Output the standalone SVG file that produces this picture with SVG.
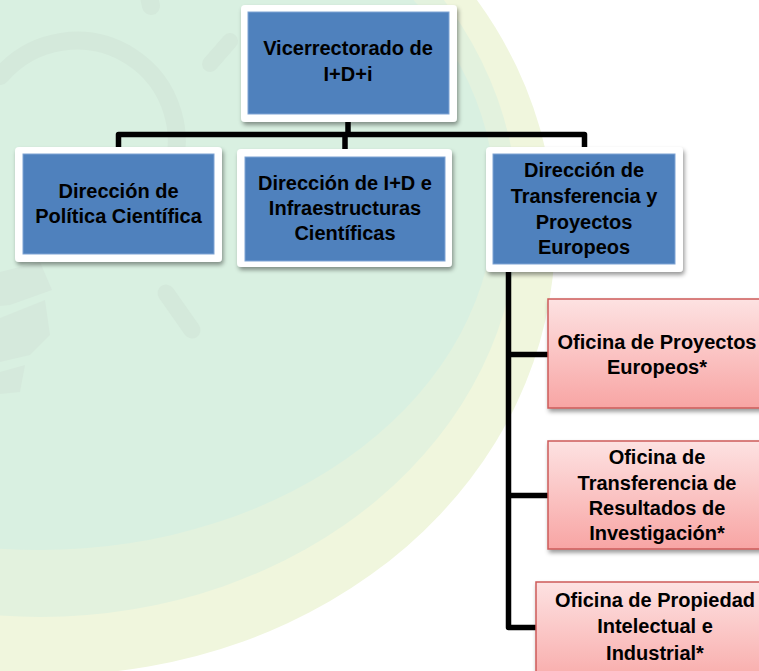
<svg xmlns="http://www.w3.org/2000/svg" width="759" height="671" viewBox="0 0 759 671">
<defs>
<filter id="sh" x="-10%" y="-10%" width="125%" height="130%">
<feDropShadow dx="1.5" dy="3" stdDeviation="2" flood-color="#000" flood-opacity="0.4"/>
</filter>
<linearGradient id="pink" x1="0" y1="0" x2="0" y2="1">
<stop offset="0" stop-color="#fde2e2"/>
<stop offset="1" stop-color="#f8a5a4"/>
</linearGradient>
<style>
.frame{fill:#fff;filter:url(#sh)}
.blue{fill:#4f81bd;stroke:#7ea3d4;stroke-width:1}
.pinkbox{fill:url(#pink);stroke:#cd5b5a;stroke-width:1.5;filter:url(#sh)}
.t{font-family:"Liberation Sans",Arial,sans-serif;font-weight:bold;font-size:20px;fill:#000;text-anchor:middle}
.conn{fill:none;stroke:#000;stroke-width:5.5;stroke-linejoin:round;stroke-linecap:butt}
.wm{fill:none;stroke:#d4e9db;stroke-linecap:round}
</style>
</defs>
<rect width="759" height="671" fill="#fff"/>
<g id="background">
<ellipse cx="50" cy="235" rx="505" ry="440" fill="#f0f6dd"/>
<ellipse cx="40" cy="215" rx="478" ry="402" fill="#e3f2de"/>
<ellipse cx="40" cy="200" rx="455" ry="350" fill="#d9f0e1"/>
<path class="wm" d="M 0.4 76 A 100 100 0 0 1 167.6 182.3" stroke-width="18"/>
<line class="wm" x1="148" y1="-8" x2="151" y2="6" stroke-width="18"/>
<line class="wm" x1="210" y1="64" x2="230" y2="41" stroke-width="16"/>
<line class="wm" x1="166" y1="293" x2="192" y2="330" stroke-width="17"/>
<path d="M0 272 L40 262 L52 290 L10 305 L0 306 Z M0 318 L45 300 L50 335 L30 355 L0 362 Z M0 372 L25 365 L20 392 L0 394 Z" fill="#d5e9dc"/>
</g>
<g id="connectors">
<path class="conn" d="M118.5 147 V134.5 H584.5 V147"/>
<path class="conn" d="M348 122 V134.5 M345 134.5 V149"/>
<path class="conn" d="M508.5 272 V627.5 H537"/>
<path class="conn" d="M508.5 354.5 H549 M508.5 495.5 H549"/>
</g>
<g id="n-vicerrectorado">
<rect class="frame" x="241" y="5" width="216" height="117" rx="4"/>
<rect class="blue" x="248" y="12" width="201" height="102"/>
<text class="t" x="348" y="55">Vicerrectorado de</text>
<text class="t" x="348" y="81">I+D+i</text>
</g>
<g id="n-politica">
<rect class="frame" x="15" y="147" width="207" height="115" rx="4"/>
<rect class="blue" x="23" y="154" width="191" height="100"/>
<text class="t" x="118.5" y="198">Dirección de</text>
<text class="t" x="118.5" y="223">Política Científica</text>
</g>
<g id="n-infraestructuras">
<rect class="frame" x="237" y="149" width="215" height="118" rx="4"/>
<rect class="blue" x="245" y="157" width="200" height="104"/>
<text class="t" x="345" y="190">Dirección de I+D e</text>
<text class="t" x="345" y="215">Infraestructuras</text>
<text class="t" x="345" y="240">Científicas</text>
</g>
<g id="n-transferencia">
<rect class="frame" x="486" y="147" width="197" height="125" rx="4"/>
<rect class="blue" x="493" y="154" width="182" height="110"/>
<text class="t" x="584" y="177">Dirección de</text>
<text class="t" x="584" y="203">Transferencia y</text>
<text class="t" x="584" y="228.5">Proyectos</text>
<text class="t" x="584" y="254">Europeos</text>
</g>
<g id="n-proyectos-europeos">
<rect class="pinkbox" x="548" y="299" width="222" height="109"/>
<text class="t" x="657" y="349">Oficina de Proyectos</text>
<text class="t" x="657" y="374">Europeos*</text>
</g>
<g id="n-transferencia-resultados">
<rect class="pinkbox" x="548" y="441" width="222" height="108"/>
<text class="t" x="657" y="464">Oficina de</text>
<text class="t" x="657" y="490">Transferencia de</text>
<text class="t" x="657" y="515">Resultados de</text>
<text class="t" x="657" y="540">Investigación*</text>
</g>
<g id="n-propiedad">
<rect class="pinkbox" x="536" y="582" width="234" height="110"/>
<text class="t" x="655" y="607">Oficina de Propiedad</text>
<text class="t" x="655" y="633">Intelectual e</text>
<text class="t" x="655" y="660">Industrial*</text>
</g>
</svg>
